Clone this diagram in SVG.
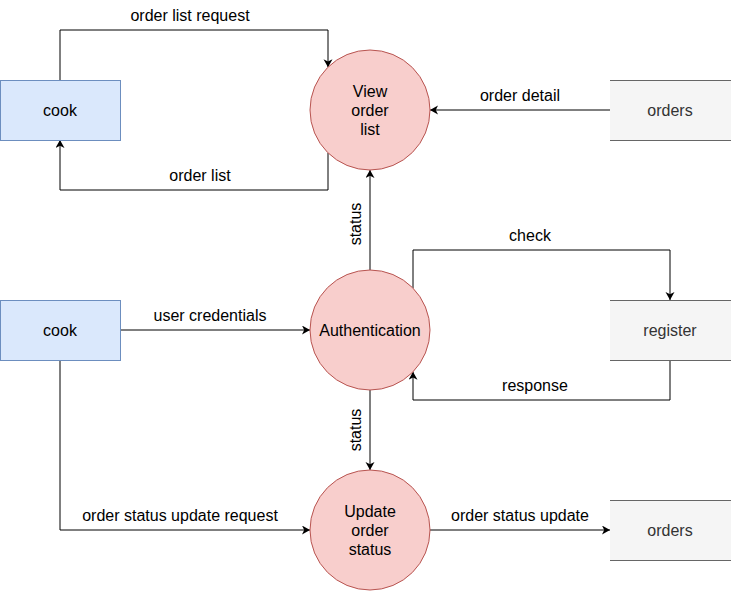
<svg xmlns="http://www.w3.org/2000/svg" width="731" height="591" viewBox="0 0 731 591">
  <defs>
    <marker id="arrow" markerUnits="userSpaceOnUse" markerWidth="10" markerHeight="10" refX="8" refY="4.5" orient="auto">
      <path d="M0,0 L8,4.5 L0,9 L2.2,4.5 z" fill="#000"/>
    </marker>
    <style>
      text { font-family: "Liberation Sans", Arial, sans-serif; font-size: 16px; text-anchor: middle; }
      .entity { fill: #dae8fc; stroke: #6c8ebf; stroke-width: 1; }
      .process { fill: #f8cecc; stroke: #b85450; stroke-width: 1; }
      .store { fill: #f5f5f5; stroke: none; }
      .storeline { stroke: #666666; stroke-width: 1; fill: none; }
      .storetext { fill: #333333; }
      .edge { fill: none; stroke: #000; stroke-width: 1; marker-end: url(#arrow); }
      .label { fill: #000; }
    </style>
  </defs>
  <rect width="731" height="591" fill="#ffffff"/>

  <g id="connectors">
    <path class="edge" d="M60,80 V30 H328 V67.2"/>
    <path class="edge" d="M328,152.8 V190 H60 V140"/>
    <path class="edge" d="M610,110 H430"/>
    <path class="edge" d="M370,270 V170"/>
    <path class="edge" d="M120,330 H310"/>
    <path class="edge" d="M413,288.2 V250 H670 V300"/>
    <path class="edge" d="M670,360 V400 H413 V371.8"/>
    <path class="edge" d="M370,390 V470"/>
    <path class="edge" d="M60,360 V530 H310"/>
    <path class="edge" d="M430,530 H610"/>
    <text class="label" x="190" y="21">order list request</text>
    <text class="label" x="200" y="181">order list</text>
    <text class="label" x="520" y="101">order detail</text>
    <text class="label" transform="translate(361,224) rotate(-90)">status</text>
    <text class="label" x="210" y="321">user credentials</text>
    <text class="label" x="530" y="241">check</text>
    <text class="label" x="535" y="391">response</text>
    <text class="label" transform="translate(361,430) rotate(-90)">status</text>
    <text class="label" x="180" y="521">order status update request</text>
    <text class="label" x="520" y="521">order status update</text>
  </g>

  <g id="cook1">
    <rect class="entity" x="0.5" y="80.5" width="120" height="60"/>
    <text x="60" y="115.5">cook</text>
  </g>
  <g id="view-order-list">
    <circle class="process" cx="370" cy="110" r="60"/>
    <text x="370" y="96.5">View</text>
    <text x="370" y="115.5">order</text>
    <text x="370" y="134.5">list</text>
  </g>
  <g id="orders1">
    <rect class="store" x="610" y="80" width="121" height="60"/>
    <path class="storeline" d="M610,80.5 H731 M610,140.5 H731"/>
    <text class="storetext" x="670" y="115.5">orders</text>
  </g>

  <g id="cook2">
    <rect class="entity" x="0.5" y="300.5" width="120" height="60"/>
    <text x="60" y="335.5">cook</text>
  </g>
  <g id="authentication">
    <circle class="process" cx="370" cy="330" r="60"/>
    <text x="370" y="335.5">Authentication</text>
  </g>
  <g id="register">
    <rect class="store" x="610" y="300" width="121" height="60"/>
    <path class="storeline" d="M610,300.5 H731 M610,360.5 H731"/>
    <text class="storetext" x="670" y="335.5">register</text>
  </g>

  <g id="update-order-status">
    <circle class="process" cx="370" cy="530" r="60"/>
    <text x="370" y="516.5">Update</text>
    <text x="370" y="535.5">order</text>
    <text x="370" y="554.5">status</text>
  </g>
  <g id="orders2">
    <rect class="store" x="610" y="500" width="121" height="60"/>
    <path class="storeline" d="M610,500.5 H731 M610,560.5 H731"/>
    <text class="storetext" x="670" y="535.5">orders</text>
  </g>
</svg>
